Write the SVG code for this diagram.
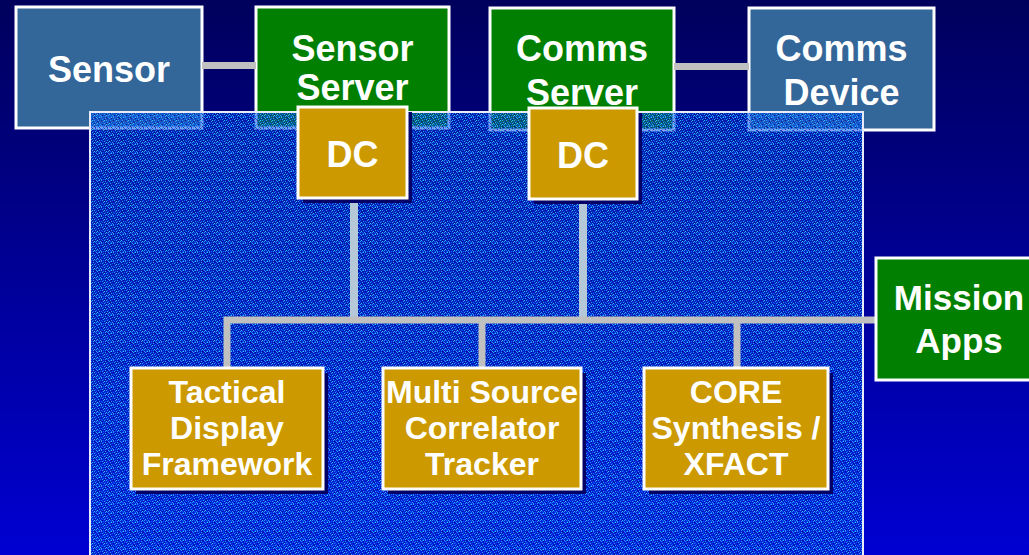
<svg xmlns="http://www.w3.org/2000/svg" width="1029" height="555" viewBox="0 0 1029 555">
<style>
.t{font-family:"Liberation Sans",Arial,sans-serif;font-weight:bold;fill:#fff;text-anchor:middle}
.big{font-size:36px}
.mid{font-size:32px}
.box{stroke:#fff;stroke-width:3}
.steel{fill:#336699}
.green{fill:#007f00}
.gold{fill:#cc9900}
.shadow{fill:#000066}
.conn{fill:none;stroke:#c0c0c0;stroke-width:7}
.vconn{fill:none;stroke:#b4c8d8;stroke-width:8}
</style>
<defs>
<linearGradient id="bg" x1="0" y1="0" x2="0" y2="1">
<stop offset="0" stop-color="#00005c"/>
<stop offset="1" stop-color="#0000d2"/>
</linearGradient>
<pattern id="tex" width="12" height="9" patternUnits="userSpaceOnUse">
<rect width="12" height="9" fill="#0040e0" fill-opacity="0.5"/>
<path fill="#3399ff" d="M0 0h1v1h-1zM5 0h1v1h-1zM9 1h1v1h-1zM1 1h1v1h-1zM6 2h1v1h-1zM10 3h1v1h-1zM2 3h1v1h-1zM7 4h1v1h-1zM11 5h1v1h-1zM3 5h1v1h-1zM8 6h1v1h-1zM0 7h1v1h-1zM4 7h1v1h-1zM9 8h1v1h-1zM5 8h1v1h-1z"/>
<path fill="#33ccff" d="M3 0h1v1h-1zM8 3h1v1h-1zM1 6h1v1h-1zM10 7h1v1h-1z"/>
<path fill="#0066ff" d="M2 0h1v1h-1zM7 1h1v1h-1zM11 2h1v1h-1zM4 2h1v1h-1zM0 4h1v1h-1zM5 5h1v1h-1zM9 5h1v1h-1zM2 7h1v1h-1zM7 8h1v1h-1zM11 8h1v1h-1zM6 6h1v1h-1zM3 8h1v1h-1z"/>
<path fill="#000088" fill-opacity="0.7" d="M10 0h1v1h-1zM3 1h1v1h-1zM8 2h1v1h-1zM1 4h1v1h-1zM5 3h1v1h-1zM10 6h1v1h-1zM6 7h1v1h-1zM2 5h1v1h-1zM11 1h1v1h-1z"/>
</pattern>
</defs>
<rect width="1029" height="555" fill="url(#bg)"/>

<g id="sensor">
<rect class="box steel" x="16" y="7" width="186" height="121"/>
<text class="t big" x="109" y="82">Sensor</text>
</g>
<g id="sensor-server">
<rect class="box green" x="256" y="7" width="193" height="121"/>
<text class="t big" x="352.5" y="61">Sensor</text>
<text class="t big" x="352.5" y="100">Server</text>
</g>
<g id="comms-server">
<rect class="box green" x="490" y="8" width="184" height="122"/>
<text class="t big" x="582" y="61">Comms</text>
<text class="t big" x="582" y="105">Server</text>
</g>
<g id="comms-device">
<rect class="box steel" x="749" y="8" width="185" height="122"/>
<text class="t big" x="841.5" y="61">Comms</text>
<text class="t big" x="841.5" y="105">Device</text>
</g>

<g id="panel">
<rect x="90" y="112" width="773" height="460" fill="url(#tex)" stroke="#e8ecf8" stroke-width="2"/>
</g>

<g id="connectors">
<line class="conn" x1="202" y1="65.5" x2="256" y2="65.5"/>
<line class="conn" x1="674" y1="66.5" x2="749" y2="66.5"/>
<line class="vconn" x1="354" y1="199" x2="354" y2="318"/>
<line class="vconn" x1="583" y1="200" x2="583" y2="318"/>
<path class="conn" d="M227 368V320H876"/>
<line class="conn" x1="482" y1="320" x2="482" y2="368"/>
<line class="conn" x1="737" y1="320" x2="737" y2="368"/>
</g>

<g id="dc1">
<rect class="shadow" x="303" y="112" width="109" height="91"/>
<rect class="box gold" x="298" y="107" width="109" height="91"/>
<text class="t big" x="352.5" y="167">DC</text>
</g>
<g id="dc2">
<rect class="shadow" x="534" y="113" width="108" height="91"/>
<rect class="box gold" x="529" y="108" width="108" height="91"/>
<text class="t big" x="583" y="168">DC</text>
</g>

<g id="tactical">
<rect class="shadow" x="136" y="373" width="192" height="121"/>
<rect class="box gold" x="131" y="368" width="192" height="121"/>
<text class="t mid" x="227" y="403">Tactical</text>
<text class="t mid" x="227" y="439">Display</text>
<text class="t mid" x="227" y="475">Framework</text>
</g>
<g id="msct">
<rect class="shadow" x="388" y="373" width="198" height="121"/>
<rect class="box gold" x="383" y="368" width="198" height="121"/>
<text class="t mid" x="482" y="403">Multi Source</text>
<text class="t mid" x="482" y="439">Correlator</text>
<text class="t mid" x="482" y="475">Tracker</text>
</g>
<g id="core">
<rect class="shadow" x="649" y="373" width="184" height="121"/>
<rect class="box gold" x="644" y="368" width="184" height="121"/>
<text class="t mid" x="736" y="403">CORE</text>
<text class="t mid" x="736" y="439">Synthesis /</text>
<text class="t mid" x="736" y="475">XFACT</text>
</g>

<g id="mission-apps">
<rect class="box green" x="876" y="258" width="170" height="122"/>
<text class="t" style="font-size:35px" x="959" y="310">Mission</text>
<text class="t" style="font-size:35px" x="959" y="353">Apps</text>
</g>
</svg>
